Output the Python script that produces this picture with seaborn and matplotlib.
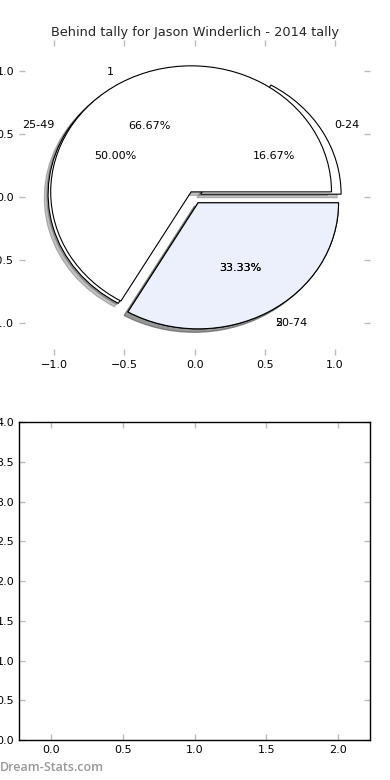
import numpy as np
import matplotlib
matplotlib.use("Agg")
import matplotlib.pyplot as plt
import seaborn as sns

# ------------------------------
# DATA
# ------------------------------
age_labels = ["0-24", "25-49", "50-74"]
age_counts = [1, 3, 2]
age_explode = [0.05, 0.05, 0.05]

tally_labels = ["1", "2"]
tally_counts = [2, 1]
tally_explode = [0.05, 0.05]

title = "Behind tally for Jason Winderlich - 2014 tally"
pie_ticks = [-1.0, -0.5, 0.0, 0.5, 1.0]
empty_xticks = [0.0, 0.5, 1.0, 1.5, 2.0]
empty_yticks = [0.0, 0.5, 1.0, 1.5, 2.0, 2.5, 3.0, 3.5, 4.0]

# ------------------------------
# STYLE
# ------------------------------
sns.set_theme(style="ticks")
plt.rcParams["font.family"] = ["DejaVu Sans"]
tick_kw = dict(direction="in", length=4, width=1, color="#bbbbbb",
               labelsize=8, labelcolor="black",
               top=True, right=True, left=True, bottom=True)
wedge_kw = dict(edgecolor="black", linewidth=0.8)
shadow_kw = dict(alpha=0.35)

fig = plt.figure(figsize=(3.9, 7.8), dpi=100)
ax1 = fig.add_axes([0.049, 0.545, 0.9, 0.404])
ax2 = fig.add_axes([0.049, 0.051, 0.9, 0.408])

# ==================================================
# TOP — TWO PIES ON ONE AXES
# ==================================================
ax1.pie(age_counts, labels=age_labels, explode=age_explode,
        colors=["white"] * len(age_counts), autopct="%1.2f%%",
        shadow=shadow_kw, wedgeprops=wedge_kw,
        textprops=dict(fontsize=8, color="black"))
ax1.pie(tally_counts, labels=tally_labels, explode=tally_explode,
        colors=["white", "#ebf0fc"], autopct="%1.2f%%",
        shadow=shadow_kw, wedgeprops=wedge_kw,
        textprops=dict(fontsize=8, color="black"))

ax1.set_aspect("auto")
ax1.set_xlim(-1.25, 1.25)
ax1.set_ylim(-1.25, 1.25)
ax1.set_xticks(pie_ticks)
ax1.set_yticks(pie_ticks)
ax1.set_frame_on(False)
ax1.tick_params(**tick_kw)
ax1.set_title(title, fontsize=9.3, pad=3)

# ==================================================
# BOTTOM — EMPTY AXES
# ==================================================
ax2.set_xlim(-0.225, 2.225)
ax2.set_ylim(0, 4)
ax2.set_xticks(empty_xticks)
ax2.set_yticks(empty_yticks)
ax2.tick_params(**tick_kw)
for sp in ax2.spines.values():
    sp.set_color("black")
    sp.set_linewidth(1)

fig.text(0.0, 0.008, "Dream-Stats.com", fontsize=9, color="#999999",
         family=["Open Sans", "DejaVu Sans"], fontweight="semibold",
         ha="left", va="bottom")

fig.savefig("out.png", dpi=100)
